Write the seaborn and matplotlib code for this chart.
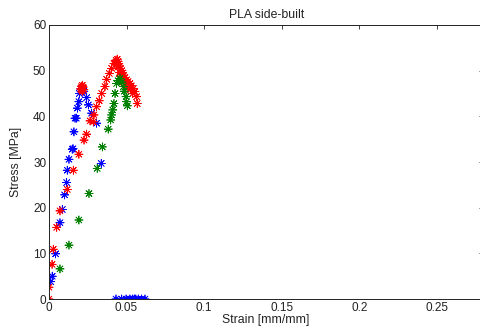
import pandas as pd
import seaborn as sns
import matplotlib.pyplot as plt
from matplotlib.ticker import FuncFormatter

# specimen data (strain [mm/mm], stress [MPa])
red_strain = [0.0, 0.0, 0.002, 0.0028, 0.005, 0.0071, 0.0118, 0.0157, 0.0193, 0.0226,
              0.0243, 0.0265, 0.0286, 0.029, 0.0307, 0.0324, 0.034, 0.0361, 0.0372, 0.0389,
              0.0404, 0.0419, 0.0432, 0.044, 0.0445, 0.045, 0.0455, 0.046, 0.047, 0.0475,
              0.048, 0.049, 0.05, 0.051, 0.0522, 0.053, 0.0544, 0.0554, 0.0565, 0.0569,
              0.0435, 0.0445, 0.0455, 0.046, 0.047, 0.048, 0.0495, 0.051, 0.0525, 0.054,
              0.0205, 0.021, 0.0215, 0.022, 0.0225, 0.0215, 0.021]
red_stress = [0.0, 2.6, 7.6, 10.9, 15.7, 19.3, 24.0, 28.2, 31.7, 34.8,
              36.1, 39.0, 38.8, 40.3, 42.1, 43.4, 45.0, 46.5, 48.1, 49.4,
              50.5, 51.6, 52.3, 52.5, 52.0, 51.5, 51.0, 50.5, 50.0, 49.5,
              49.0, 48.5, 48.0, 47.6, 47.2, 46.7, 46.1, 45.4, 44.3, 42.8,
              51.5, 50.8, 49.6, 48.8, 48.0, 47.5, 46.8, 46.3, 45.8, 45.0,
              46.0, 46.5, 46.8, 46.4, 45.9, 45.5, 45.8]

green_strain = [0.0071, 0.0129, 0.0193, 0.0258, 0.0311, 0.0344, 0.0382, 0.0398, 0.0404,
                0.0411, 0.0419, 0.0426, 0.0436, 0.0445, 0.0458, 0.047, 0.048, 0.0485,
                0.0497, 0.05, 0.0505]
green_stress = [6.6, 11.8, 17.3, 23.1, 28.6, 33.3, 37.2, 39.2, 40.3,
                41.4, 42.8, 45.0, 47.2, 47.8, 48.3, 47.5, 46.5, 45.5,
                44.3, 43.2, 42.3]

blue_strain = [0.0011, 0.0021, 0.0043, 0.0071, 0.0086, 0.0101, 0.0114, 0.0118, 0.0129,
               0.015, 0.0155, 0.0161, 0.0168, 0.0176, 0.0183, 0.0193, 0.0196, 0.0205,
               0.0225, 0.0243, 0.0254, 0.0275, 0.0307, 0.0337,
               0.0432, 0.0469, 0.0497, 0.0522, 0.054, 0.055, 0.056, 0.0576, 0.0597, 0.0619]
blue_stress = [3.8, 5.0, 9.9, 16.7, 19.6, 22.8, 25.5, 28.2, 30.6,
               32.8, 32.9, 36.6, 39.6, 39.6, 41.8, 43.2, 45.0, 46.0,
               45.5, 44.1, 42.5, 40.7, 38.5, 29.7,
               0.0, 0.0, 0.0, 0.0, 0.0, 0.0, 0.0, 0.0, 0.0, 0.0]

x_ticks = [0, 0.05, 0.1, 0.15, 0.2, 0.25]
y_ticks = [0, 10, 20, 30, 40, 50, 60]

df = pd.concat([
    pd.DataFrame({"strain": blue_strain, "stress": blue_stress, "specimen": "blue"}),
    pd.DataFrame({"strain": red_strain, "stress": red_stress, "specimen": "red"}),
    pd.DataFrame({"strain": green_strain, "stress": green_stress, "specimen": "green"}),
], ignore_index=True)

sns.set_style("white")
plt.rcParams['font.family'] = ['Liberation Sans', 'DejaVu Sans']

fig = plt.figure(figsize=(4.8, 3.33), dpi=100)
ax = fig.add_axes([0.102, 0.102, 0.905, 0.823])

palette = {"red": "#ff0000", "green": "#008000", "blue": "#0000ff"}
sns.scatterplot(data=df, x="strain", y="stress", hue="specimen", palette=palette,
                marker=(8, 2, 0), s=34, linewidth=0.55, legend=False, ax=ax)

ax.set_xlim(0, 0.28)
ax.set_ylim(0, 60)
ax.set_xticks(x_ticks)
ax.set_yticks(y_ticks)
ax.xaxis.set_major_formatter(FuncFormatter(lambda v, p: "%g" % v))
ax.tick_params(direction="in", length=3, width=0.6, labelsize=8.5, colors="#222222",
               top=True, right=True, pad=2)
for sp in ax.spines.values():
    sp.set_linewidth(0.7)
    sp.set_color("#222222")

ax.set_title("PLA side-built", fontsize=8.8, color="#222222", pad=5)
ax.set_xlabel("Strain [mm/mm]", fontsize=8.8, color="#222222", labelpad=0)
ax.set_ylabel("Stress [MPa]", fontsize=8.8, color="#222222", labelpad=8)

fig.savefig("out.png", dpi=100)
